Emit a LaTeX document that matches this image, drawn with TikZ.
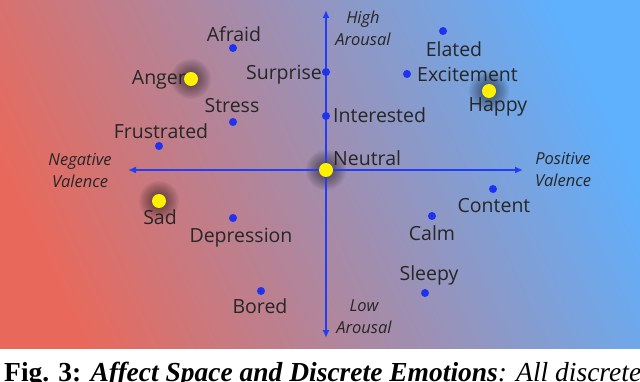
\documentclass[tikz,border=0pt]{standalone}
\usepackage{fontspec}
\setmainfont{Open Sans}
\newfontfamily\capfont{Liberation Serif}
\usetikzlibrary{arrows.meta}

\definecolor{bgred}{RGB}{232,105,91}
\definecolor{bgblue}{RGB}{95,176,253}
\definecolor{dotblue}{RGB}{30,50,240}
\definecolor{axisblue}{RGB}{35,60,245}
\definecolor{dotyellow}{RGB}{255,240,0}
\pgfdeclarehorizontalshading{affectbg}{100bp}{color(0bp)=(bgred); color(24bp)=(bgred); color(76bp)=(bgblue); color(100bp)=(bgblue)}

\tikzset{
  emo/.style={circle, fill=dotblue, inner sep=0pt, minimum size=8pt},
  keyemo/.style={circle, fill=dotyellow, inner sep=0pt, minimum size=14pt},
  lbl/.style={anchor=base, inner sep=0pt, text=black!85, font=\fontsize{19.5}{22}\selectfont},
  pole/.style={anchor=base, inner sep=0pt, align=center, text=black!85, font=\itshape\fontsize{16.5}{22}\selectfont},
  axis/.style={axisblue, line width=2.5pt, {Latex[length=8pt,width=7pt]}-{Latex[length=8pt,width=7pt]}},
}

\begin{document}
\begin{tikzpicture}[x=1pt, y=-1pt]
\useasboundingbox (0,0) rectangle (640,382);
\clip (0,0) rectangle (640,382);
\shade[shading=affectbg, shading angle=25] (0,0) rectangle (640,348);

% glow under the four key emotions
\foreach \x/\y in {191/79, 489/91, 159/201, 326/170}
  \foreach \r in {8,9.5,...,21} \fill[black, opacity=0.05] (\x,\y) circle (\r pt);

% axes
\coordinate (top) at (326,10);
\coordinate (bottom) at (326,338);
\coordinate (left) at (128,170);
\coordinate (right) at (523,170);
\draw[axis] (left) -- (right);
\draw[axis] (top) -- (bottom);

% baseline of the second line
\node[pole] (high) at (363,46) {High\\Arousal};
\node[pole] (low) at (364,333) {Low\\Arousal};
\node[pole] (negative) at (80,188) {Negative\\Valence};
\node[pole] (positive) at (563,187) {Positive\\Valence};

% emotions
\node[emo] (afraid) at (233,48) {};
\node[keyemo] (anger) at (191,79) {};
\node[emo] (surprise) at (326,72) {};
\node[emo] (stress) at (233,122) {};
\node[emo] (frustrated) at (159,146) {};
\node[emo] (interested) at (326,116) {};
\node[keyemo] (neutral) at (326,170) {};
\node[emo] (elated) at (443,31) {};
\node[emo] (excitement) at (407,74) {};
\node[keyemo] (happy) at (489,91) {};
\node[keyemo] (sad) at (159,201) {};
\node[emo] (depression) at (233,218) {};
\node[emo] (bored) at (261,291) {};
\node[emo] (content) at (493,189) {};
\node[emo] (calm) at (432,216) {};
\node[emo] (sleepy) at (425,293) {};

\node[lbl] (l-afraid) at (234,42) {Afraid};
\node[lbl, anchor=base east] (l-anger) at (186,85) {Anger};
\node[lbl, anchor=base east] (l-surprise) at (322,80) {Surprise};
\node[lbl] (l-stress) at (232,113) {Stress};
\node[lbl] (l-frustrated) at (161,139) {Frustrated};
\node[lbl, anchor=base west] (l-interested) at (333,123) {Interested};
\node[lbl, anchor=base west] (l-neutral) at (333,166) {Neutral};
\node[lbl] (l-elated) at (454,57) {Elated};
\node[lbl, anchor=base west] (l-excitement) at (417,82) {Excitement};
\node[lbl] (l-happy) at (498,112) {Happy};
\node[lbl] (l-sad) at (160,225) {Sad};
\node[lbl] (l-depression) at (241,243) {Depression};
\node[lbl] (l-bored) at (260,313) {Bored};
\node[lbl] (l-content) at (494,213) {Content};
\node[lbl] (l-calm) at (432,241) {Calm};
\node[lbl] (l-sleepy) at (429,280) {Sleepy};

% caption
\node[anchor=base west, inner sep=0pt, font=\capfont\fontsize{27.5}{30}\selectfont] (caption) at (4,381)
  {\textbf{Fig. 3:} \textbf{\textit{Affect Space and Discrete Emotions}}\textit{: All discrete}};
\end{tikzpicture}
\end{document}
